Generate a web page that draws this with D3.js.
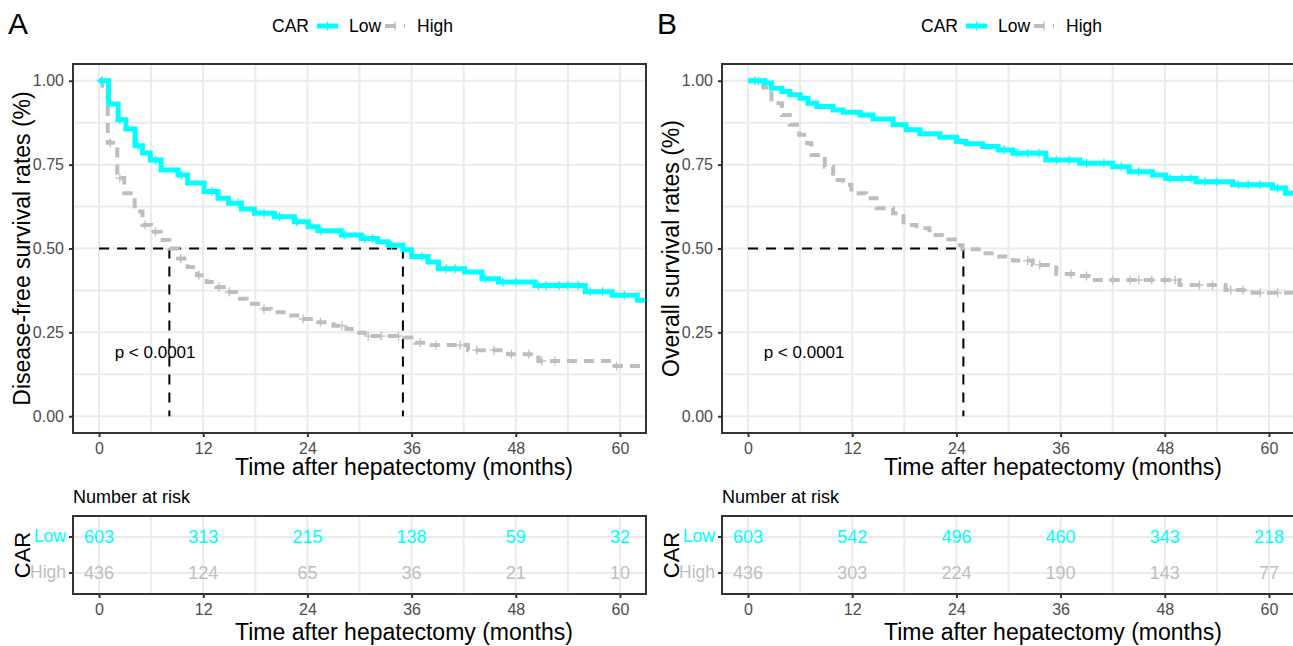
<!DOCTYPE html>
<html>
<head>
<meta charset="utf-8">
<title>KM CAR</title>
<script src="https://cdn.jsdelivr.net/npm/d3@7"></script>
<style>
body { margin: 0; background: #fff; font-family: "Liberation Sans", Arial, sans-serif; }
.grid line { stroke: #ebebeb; stroke-width: 2; }
.border { fill: none; stroke: #333; stroke-width: 2; }
.axis path { display: none; }
.axis line { stroke: #333; stroke-width: 2; }
.axis text { fill: #4d4d4d; font-size: 16px; font-family: "Liberation Sans", Arial, sans-serif; }
.median { fill: none; stroke: #000; stroke-width: 2; stroke-dasharray: 10,8; }
.title { fill: #000; font-size: 23px; }
</style>
</head>
<body>
<script>

// time ticks (months) and survival ticks
var timeTicks = [0, 12, 24, 36, 48, 60];
var minorTicks = [6, 18, 30, 42, 54];
var survTicks = [0, 0.25, 0.5, 0.75, 1];
var survMinor = [0.125, 0.375, 0.625, 0.875];
var groups = ["Low", "High"];

// A: disease-free survival, steps [months, survival]
var dfsLow = [[0,1],[1.1,0.931],[2.2,0.884],[3.1,0.856],[4.15,0.806],[5.0,0.785],[5.9,0.764],[7.15,0.734],[9.1,0.719],[10.2,0.695],[12.1,0.67],[13.7,0.65],[14.9,0.635],[16.4,0.618],[17.9,0.605],[20.2,0.595],[22.5,0.58],[24.1,0.565],[25.2,0.553],[27.9,0.54],[30.2,0.53],[32.1,0.52],[33.3,0.51],[35.0,0.496],[36.0,0.476],[37.9,0.46],[39.1,0.44],[42.1,0.43],[44.1,0.41],[46.0,0.40],[50.2,0.39],[56.0,0.371],[59.1,0.361],[62.0,0.346]];
var dfsHigh = [[0,1],[0.4,0.985],[1.0,0.815],[2.1,0.71],[2.9,0.665],[4.1,0.61],[5.0,0.57],[6.0,0.55],[7.1,0.525],[8.1,0.50],[9.1,0.47],[10.2,0.445],[11.3,0.42],[12.4,0.40],[13.5,0.385],[14.6,0.37],[15.8,0.35],[17,0.335],[18.3,0.32],[19.8,0.31],[21.5,0.30],[23.2,0.29],[25,0.28],[27,0.27],[28.5,0.26],[29.1,0.249],[30.6,0.239],[35.2,0.235],[36.4,0.219],[38.3,0.212],[42.5,0.197],[47.1,0.185],[50.6,0.165],[59.4,0.150]];
var dfsLowCensor = [0.3, 2.4, 4.5, 6.5, 9.5, 13, 16, 19, 20.8, 22.8, 25.6, 28.3, 30.6, 31.5, 33.7, 37.2, 40, 41, 44.5, 46.5, 48, 50.6, 51.5, 53, 54, 55.2, 56.6, 58, 60.5];
var dfsHighCensor = [0.3, 1.3, 2.4, 5.3, 6.5, 9.4, 11.5, 13.8, 15, 19, 23.5, 25.5, 28, 31, 32.5, 34.5, 37, 38.8, 41.6, 43.5, 45.5, 47.5, 49.5, 51, 52.5, 59.6];
var dfsMedians = [8.1, 35.0];
var dfsRiskLow = [603, 313, 215, 138, 59, 32];
var dfsRiskHigh = [436, 124, 65, 36, 21, 10];

// B: overall survival
var osLow = [[0,1],[1.95,0.993],[2.7,0.978],[3.9,0.968],[4.8,0.958],[6.0,0.948],[6.9,0.933],[7.9,0.923],[9.8,0.913],[10.95,0.906],[12.9,0.898],[14.4,0.886],[16.7,0.869],[18.2,0.854],[19.8,0.842],[22.1,0.832],[24,0.819],[25.1,0.812],[27,0.804],[28.8,0.794],[30.5,0.784],[34.3,0.764],[38.2,0.754],[42,0.744],[43.9,0.729],[46.6,0.719],[48.1,0.709],[51.6,0.699],[55.8,0.690],[60.4,0.680],[61.9,0.665]];
var osHigh = [[0,1],[1.75,0.98],[2.7,0.933],[3.9,0.898],[4.8,0.869],[5.9,0.839],[6.8,0.814],[7.3,0.779],[8.85,0.744],[9.8,0.704],[10.95,0.69],[11.9,0.665],[13.6,0.65],[14.8,0.62],[16.7,0.605],[17.9,0.57],[19.4,0.56],[20.9,0.54],[22.8,0.527],[23.8,0.51],[24.7,0.498],[27,0.486],[28.6,0.476],[30.5,0.464],[32.8,0.451],[35.5,0.424],[37.8,0.418],[39.7,0.406],[49.7,0.391],[55,0.376],[58.1,0.368]];
var osLowCensor = [0.8, 29.5, 31, 32.2, 33.5, 35.5, 37, 39, 41, 43, 45, 48.6, 50, 51, 52.6, 54, 56.5, 57.6, 59, 61];
var osHighCensor = [1.2, 32.2, 33.6, 37.2, 39, 42, 44, 45, 46.5, 48, 49.2, 52, 53.5, 55.6, 57, 59, 61];
var osMedians = [24.8];
var osRiskLow = [603, 542, 496, 460, 343, 218];
var osRiskHigh = [436, 303, 224, 190, 143, 77];

var colLow = "#00FFFF", colHigh = "#BEBEBE";

var W = 1293, H = 646;
var pw = 573, plotTop = 64, plotBottom = 433, rTop = 516, rBottom = 594;

var svg = d3.select("body").append("svg")
    .attr("width", W)
    .attr("height", H);

var panels = [
  {left: 73, letter: "A", ytitle: "Disease-free survival rates (%)", low: dfsLow, high: dfsHigh,
   lowC: dfsLowCensor, highC: dfsHighCensor, med: dfsMedians, rLow: dfsRiskLow, rHigh: dfsRiskHigh},
  {left: 722, letter: "B", ytitle: "Overall survival rates (%)", low: osLow, high: osHigh,
   lowC: osLowCensor, highC: osHighCensor, med: osMedians, rLow: osRiskLow, rHigh: osRiskHigh}
];

function survAt(curve, t) {
  var s = curve[0][1];
  curve.forEach(function(d) { if (d[0] <= t) s = d[1]; });
  return s;
}

panels.forEach(function(p, i) {
  var g = svg.append("g");
  var x = d3.scaleLinear().domain([-3, 63]).range([p.left, p.left + pw]);
  var y = d3.scaleLinear().domain([-0.05, 1.05]).range([plotBottom, plotTop]);

  var clipId = "clip" + i;
  svg.append("clipPath").attr("id", clipId).append("rect")
      .attr("x", p.left).attr("y", plotTop).attr("width", pw).attr("height", plotBottom - plotTop);

  // grid
  var grid = g.append("g").attr("class", "grid");
  grid.selectAll(".vx").data(timeTicks.concat(minorTicks)).enter().append("line")
      .attr("x1", x).attr("x2", x).attr("y1", plotTop).attr("y2", plotBottom);
  grid.selectAll(".hy").data(survTicks.concat(survMinor)).enter().append("line")
      .attr("x1", p.left).attr("x2", p.left + pw).attr("y1", y).attr("y2", y);

  // medians
  var maxMed = d3.max(p.med);
  g.append("line").attr("class", "median")
      .attr("x1", x(0)).attr("x2", x(maxMed)).attr("y1", y(0.5)).attr("y2", y(0.5));
  g.selectAll(".mv").data(p.med).enter().append("line").attr("class", "median")
      .attr("x1", x).attr("x2", x).attr("y1", y(0.5)).attr("y2", y(0));

  var line = d3.line()
      .x(function(d) { return x(d[0]); })
      .y(function(d) { return y(d[1]); })
      .curve(d3.curveStepAfter);

  var curves = g.append("g").attr("clip-path", "url(#" + clipId + ")");

  function drawCurve(curve, cens, col, width, dash) {
    var pts = curve.concat([[x.domain()[1], curve[curve.length - 1][1]]]);
    curves.append("path").datum(pts)
        .attr("fill", "none").attr("stroke", col).attr("stroke-width", width)
        .attr("stroke-dasharray", dash)
        .attr("d", line);
    var m = curves.selectAll(null).data(cens).enter().append("g")
        .attr("transform", function(t) { return "translate(" + x(t) + "," + y(survAt(curve, t)) + ")"; });
    m.append("line").attr("x1", 0).attr("x2", 0).attr("y1", -4.5).attr("y2", 4.5)
        .attr("stroke", col).attr("stroke-width", 1.3);
    m.append("line").attr("x1", -4.5).attr("x2", 4.5).attr("y1", 0).attr("y2", 0)
        .attr("stroke", col).attr("stroke-width", 1.3);
  }
  drawCurve(p.high, p.highC, colHigh, 4, "10,7");
  drawCurve(p.low, p.lowC, colLow, 5, null);

  g.append("rect").attr("class", "border")
      .attr("x", p.left).attr("y", plotTop).attr("width", pw).attr("height", plotBottom - plotTop);

  // axes
  g.append("g").attr("class", "axis")
      .attr("transform", "translate(" + p.left + ",0)")
      .call(d3.axisLeft(y).tickValues(survTicks).tickFormat(d3.format(".2f")).tickSize(4).tickPadding(5));
  g.append("g").attr("class", "axis")
      .attr("transform", "translate(0," + plotBottom + ")")
      .call(d3.axisBottom(x).tickValues(timeTicks).tickSize(4).tickPadding(6));

  g.append("text").attr("class", "title")
      .attr("x", p.left + 331).attr("y", 467).attr("dy", "0.35em")
      .attr("text-anchor", "middle").text("Time after hepatectomy (months)");
  g.append("text").attr("class", "title")
      .attr("transform", "translate(" + (p.left - 51) + "," + ((plotTop + plotBottom) / 2) + ") rotate(-90)")
      .attr("dy", "0.35em").attr("text-anchor", "middle").text(p.ytitle);

  g.append("text").attr("x", x(1.8)).attr("y", y(0.19)).attr("dy", "0.35em")
      .style("font-size", "17px").text("p < 0.0001");

  g.append("text").attr("x", p.left - 65).attr("y", 34)
      .style("font-size", "30px").text(p.letter);

  // legend
  var lg = g.append("g").attr("transform", "translate(" + p.left + ",26)");
  lg.append("text").attr("x", 199).attr("dy", "0.35em").style("font-size", "17.5px").text("CAR");
  lg.append("line").attr("x1", 244).attr("x2", 265).attr("stroke", colLow).attr("stroke-width", 5);
  lg.append("line").attr("x1", 254.5).attr("x2", 254.5).attr("y1", -4.5).attr("y2", 4.5).attr("stroke", colLow).attr("stroke-width", 1.3);
  lg.append("text").attr("x", 276).attr("dy", "0.35em").style("font-size", "17.5px").text("Low");
  lg.append("line").attr("x1", 312).attr("x2", 332).attr("stroke", colHigh).attr("stroke-width", 4).attr("stroke-dasharray", "11,8");
  lg.append("line").attr("x1", 322).attr("x2", 322).attr("y1", -4.5).attr("y2", 4.5).attr("stroke", colHigh).attr("stroke-width", 1.3);
  lg.append("text").attr("x", 344).attr("dy", "0.35em").style("font-size", "17.5px").text("High");

  // number at risk table
  var yr = d3.scalePoint().domain(groups).range([537, 573]);
  var tg = g.append("g");
  g.append("text").attr("x", p.left).attr("y", 497).attr("dy", "0.35em")
      .style("font-size", "18px").text("Number at risk");
  var tgrid = tg.append("g").attr("class", "grid");
  tgrid.selectAll(".vx").data(timeTicks.concat(minorTicks)).enter().append("line")
      .attr("x1", x).attr("x2", x).attr("y1", rTop).attr("y2", rBottom);
  tgrid.selectAll(".hy").data(groups).enter().append("line")
      .attr("x1", p.left).attr("x2", p.left + pw).attr("y1", yr).attr("y2", yr);

  var rows = [{g: "Low", v: p.rLow, c: colLow}, {g: "High", v: p.rHigh, c: colHigh}];
  rows.forEach(function(r) {
    tg.selectAll(null).data(r.v).enter().append("text")
        .attr("x", function(d, k) { return x(timeTicks[k]); })
        .attr("y", yr(r.g)).attr("dy", "0.35em").attr("text-anchor", "middle")
        .attr("fill", r.c).style("font-size", "18px")
        .text(function(d) { return d; });
    tg.append("line").attr("x1", p.left - 4).attr("x2", p.left).attr("y1", yr(r.g)).attr("y2", yr(r.g))
        .attr("stroke", "#333").attr("stroke-width", 2);
    tg.append("text").attr("x", p.left - 7).attr("y", yr(r.g) - 1).attr("dy", "0.35em")
        .attr("text-anchor", "end").attr("fill", r.c).style("font-size", "17.5px").text(r.g);
  });
  tg.append("rect").attr("class", "border")
      .attr("x", p.left).attr("y", rTop).attr("width", pw).attr("height", rBottom - rTop);
  tg.append("g").attr("class", "axis")
      .attr("transform", "translate(0," + rBottom + ")")
      .call(d3.axisBottom(x).tickValues(timeTicks).tickSize(4).tickPadding(6));
  tg.append("text").attr("class", "title")
      .attr("x", p.left + 331).attr("y", 632).attr("dy", "0.35em")
      .attr("text-anchor", "middle").text("Time after hepatectomy (months)");
  tg.append("text")
      .attr("transform", "translate(" + (p.left - 51) + "," + ((rTop + rBottom) / 2) + ") rotate(-90)")
      .attr("dy", "0.35em").attr("text-anchor", "middle").style("font-size", "22px").text("CAR");
});

</script>
</body>
</html>
